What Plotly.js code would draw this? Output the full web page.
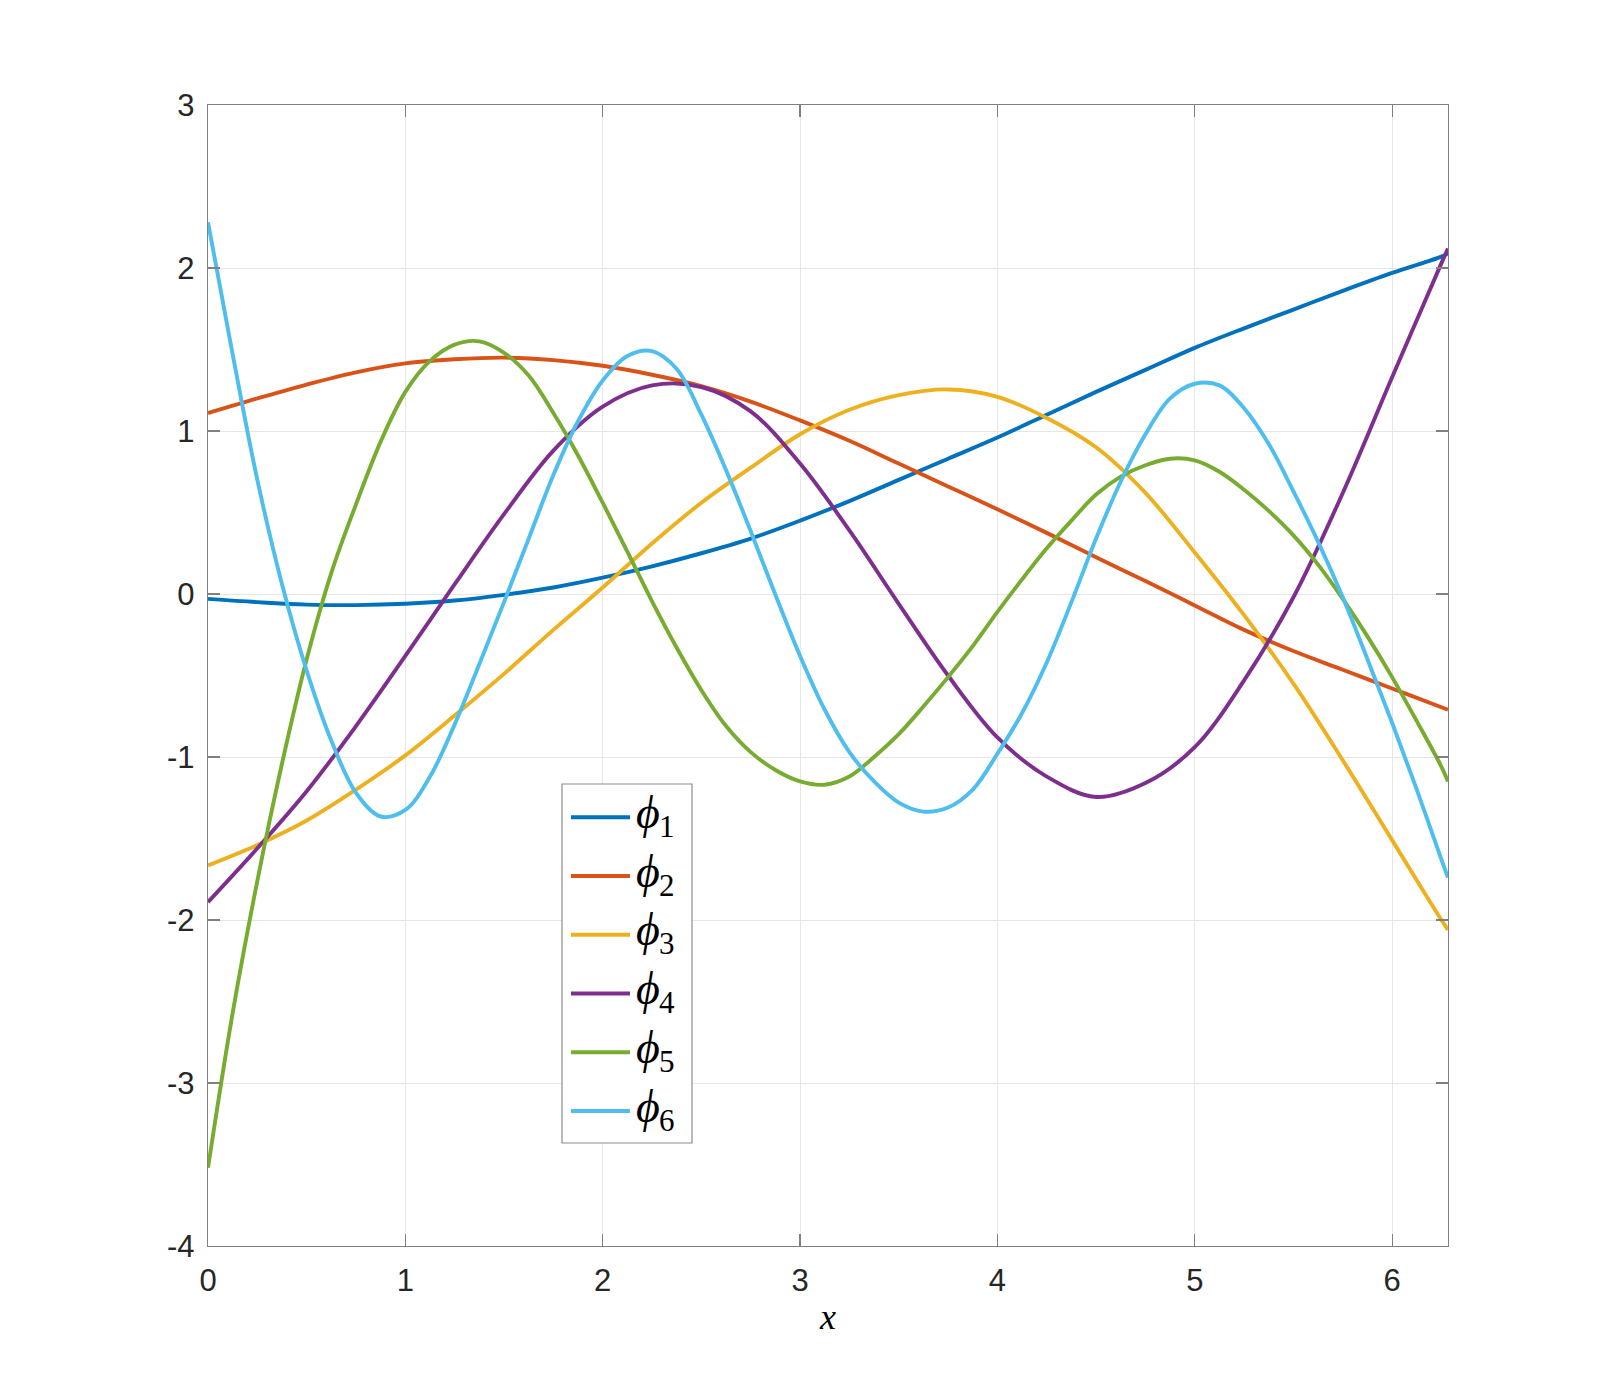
<!DOCTYPE html>
<html>
<head>
<meta charset="utf-8">
<script src="https://cdn.plot.ly/plotly-3.0.1.min.js"></script>
<style>html,body{margin:0;padding:0;background:#fff;}#chart{width:1600px;height:1400px;}</style>
</head>
<body>
<div id="chart"></div>
<script>
// ---- data ----
const xCoarse = [0,0.25,0.5,0.75,1,1.25,1.5,1.75,2,2.25,2.5,2.75,3,3.25,3.5,3.75,4,4.25,4.5,4.75,5,5.25,5.5,5.75,6,6.25,6.2832];
const xFine = [0,0.125,0.25,0.375,0.5,0.625,0.75,0.875,1,1.125,1.25,1.375,1.5,1.625,1.75,1.875,2,2.125,2.25,2.375,2.5,2.625,2.75,2.875,3,3.125,3.25,3.375,3.5,3.625,3.75,3.875,4,4.125,4.25,4.375,4.5,4.625,4.75,4.875,5,5.125,5.25,5.375,5.5,5.625,5.75,5.875,6,6.125,6.25,6.2832];

const phi1 = [-0.03,-0.05,-0.065,-0.068,-0.06,-0.04,-0.005,0.04,0.10,0.17,0.25,0.34,0.45,0.57,0.70,0.83,0.96,1.10,1.24,1.375,1.51,1.63,1.745,1.86,1.97,2.07,2.09];
const phi2 = [1.11,1.20,1.285,1.36,1.415,1.44,1.45,1.435,1.40,1.345,1.275,1.18,1.065,0.94,0.80,0.66,0.52,0.375,0.225,0.08,-0.07,-0.22,-0.35,-0.465,-0.58,-0.695,-0.71];
const phi3 = [-1.665,-1.54,-1.39,-1.20,-0.99,-0.745,-0.49,-0.22,0.04,0.31,0.56,0.775,0.98,1.13,1.22,1.255,1.21,1.08,0.90,0.62,0.255,-0.13,-0.55,-1.02,-1.51,-2.00,-2.06];
const phi4 = [-1.89,-1.56,-1.21,-0.81,-0.38,0.06,0.49,0.88,1.15,1.28,1.27,1.12,0.80,0.39,-0.06,-0.50,-0.88,-1.12,-1.245,-1.16,-0.94,-0.53,-0.02,0.62,1.33,2.03,2.12];
const phi5 = [-3.52,-2.57,-1.76,-1.04,-0.40,0.13,0.55,0.935,1.24,1.43,1.53,1.55,1.48,1.34,1.11,0.85,0.56,0.26,-0.045,-0.33,-0.59,-0.81,-0.97,-1.08,-1.15,-1.17,-1.12,-1.00,-0.86,-0.69,-0.51,-0.32,-0.11,0.09,0.28,0.45,0.61,0.72,0.79,0.83,0.82,0.75,0.64,0.51,0.36,0.18,-0.03,-0.26,-0.51,-0.78,-1.06,-1.15];
const phi6 = [2.28,1.47,0.70,0.06,-0.47,-0.90,-1.22,-1.365,-1.325,-1.12,-0.80,-0.43,-0.05,0.34,0.73,1.06,1.31,1.46,1.49,1.38,1.10,0.76,0.385,-0.005,-0.38,-0.71,-0.97,-1.15,-1.28,-1.335,-1.31,-1.20,-0.98,-0.73,-0.42,-0.05,0.34,0.69,0.98,1.20,1.29,1.28,1.14,0.92,0.63,0.32,-0.02,-0.40,-0.79,-1.20,-1.63,-1.74];

const seriesNames = ['ϕ1','ϕ2','ϕ3','ϕ4','ϕ5','ϕ6'];
const legendSymbol = 'ϕ';
const legendIndex = ['1','2','3','4','5','6'];
const xTickVals = [0,1,2,3,4,5,6];
const xTickText = ['0','1','2','3','4','5','6'];
const yTickVals = [-4,-3,-2,-1,0,1,2,3];
const yTickText = ['-4','-3','-2','-1','0','1','2','3'];
const xTitle = 'x';

// ---- styles ----
const colors = ['#0072BD','#D95319','#EDB120','#7E2F8E','#77AC30','#4DBEEE'];
const seriesX = [xCoarse, xCoarse, xCoarse, xCoarse, xFine, xFine];
const seriesY = [phi1, phi2, phi3, phi4, phi5, phi6];

const traces = seriesY.map((ys, i) => ({
  type: 'scatter', mode: 'lines', name: seriesNames[i],
  x: seriesX[i], y: ys,
  line: {color: colors[i], width: 3.9, shape: 'spline', smoothing: 1},
  showlegend: false, hoverinfo: 'skip'
}));

// manual MATLAB-like legend (box, line samples, labels)
const plotL = 208, plotR = 1448, plotT = 105, plotB = 1246;
const px = X => (X - plotL) / (plotR - plotL);
const py = Y => (plotB - Y) / (plotB - plotT);
const shapes = [{
  type: 'rect', xref: 'paper', yref: 'paper', layer: 'above',
  x0: px(562), x1: px(692), y0: py(1143), y1: py(784),
  fillcolor: '#ffffff', line: {color: '#8c8c8c', width: 1.2}
}];
const annotations = [];
const rowTop = 817.3, rowStep = 58.75;
const serif = 'Liberation Serif, DejaVu Serif, serif';
seriesNames.forEach((n, i) => {
  const Y = rowTop + i * rowStep;
  shapes.push({type: 'line', xref: 'paper', yref: 'paper', layer: 'above',
    x0: px(571), x1: px(630), y0: py(Y), y1: py(Y),
    line: {color: colors[i], width: 3.9}});
  annotations.push({xref: 'paper', yref: 'paper', x: px(634), y: py(Y),
    xanchor: 'left', yanchor: 'middle', showarrow: false, yshift: 5,
    text: legendSymbol,
    font: {family: serif, size: 46, color: '#000000', style: 'italic'}});
  annotations.push({xref: 'paper', yref: 'paper', x: px(657), y: py(Y),
    xanchor: 'left', yanchor: 'middle', showarrow: false, yshift: -9,
    text: legendIndex[i],
    font: {family: serif, size: 31, color: '#000000'}});
});

const axisCommon = {
  showline: true, linecolor: '#808080', linewidth: 1.2, mirror: 'ticks',
  ticks: 'inside', ticklen: 12, tickwidth: 1.2, tickcolor: '#808080',
  showgrid: true, gridcolor: '#e6e6e6', gridwidth: 1, zeroline: false,
  tickmode: 'array',
  tickfont: {family: 'Liberation Sans, Arial, Helvetica, sans-serif', size: 31, color: '#262626'}
};

const layout = {
  width: 1600, height: 1400,
  paper_bgcolor: '#ffffff', plot_bgcolor: '#ffffff',
  margin: {l: plotL, r: 1600 - plotR, t: plotT, b: 1400 - plotB, pad: 0},
  showlegend: false,
  xaxis: Object.assign({}, axisCommon, {
    range: [0, 2 * Math.PI], tickvals: xTickVals, ticktext: xTickText,
    ticklabelstandoff: 7,
    title: {text: xTitle, standoff: 6,
      font: {family: serif, size: 36, color: '#000000', style: 'italic'}}
  }),
  yaxis: Object.assign({}, axisCommon, {
    range: [-4, 3], tickvals: yTickVals, ticktext: yTickText,
    ticklabelstandoff: 6
  }),
  shapes: shapes,
  annotations: annotations
};

Plotly.newPlot('chart', traces, layout, {displayModeBar: false, staticPlot: true});
</script>
</body>
</html>
